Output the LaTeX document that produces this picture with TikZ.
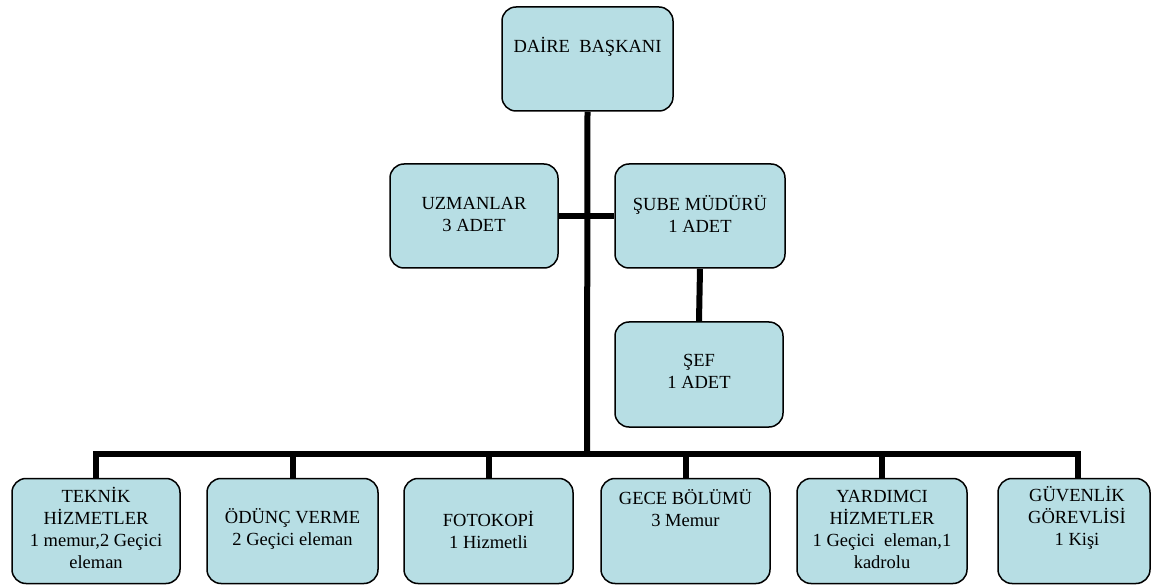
\documentclass[tikz,border=0pt]{standalone}
\usepackage{fontspec}
\setmainfont{Liberation Serif}
\newfontfamily\tnr{Liberation Serif}
\definecolor{boxfill}{RGB}{183,222,228}
\begin{document}
\begin{tikzpicture}[x=1pt,y=-1pt,
  box/.style={draw=black, line width=1.5pt, fill=boxfill, rounded corners=14pt, inner sep=0pt},
  lbl/.style={font=\tnr\fontsize{18.5}{22}\selectfont, align=center, inner sep=0pt, text=black},
  wire/.style={line width=6pt, draw=black}]
\useasboundingbox (0,0) rectangle (1152,585);
% boxes
\node[box, minimum width=171pt, minimum height=104pt] (daire) at (587.5,59) {};
\node[box, minimum width=168pt, minimum height=104pt] (uzm) at (474,216) {};
\node[box, minimum width=170pt, minimum height=104pt] (sube) at (700,216) {};
\node[box, minimum width=168pt, minimum height=105pt] (sef) at (699,374.5) {};
\node[box, minimum width=168pt, minimum height=105pt] (tek) at (96,531) {};
\node[box, minimum width=171pt, minimum height=105pt] (odn) at (292.5,531) {};
\node[box, minimum width=169pt, minimum height=105pt] (foto) at (488.5,531) {};
\node[box, minimum width=169pt, minimum height=105pt] (gece) at (685.5,531) {};
\node[box, minimum width=170pt, minimum height=105pt] (yard) at (882,531) {};
\node[box, minimum width=152pt, minimum height=105pt] (guv) at (1074,531) {};
% labels
\node[lbl] (tdaire) at (587.5,47) {DAİRE~ BAŞKANI};
\node[lbl] (tuzm) at (474,214) {UZMANLAR\\3 ADET};
\node[lbl] (tsube) at (700,214) {ŞUBE MÜDÜRÜ\\1 ADET};
\node[lbl] (tsef) at (699,371) {ŞEF\\1 ADET};
\node[lbl] (ttek) at (96,528) {TEKNİK\\HİZMETLER\\1 memur,2 Geçici\\eleman};
\node[lbl] (todn) at (292.5,529) {ÖDÜNÇ VERME\\2 Geçici eleman};
\node[lbl] (tfoto) at (488.5,530) {FOTOKOPİ\\1 Hizmetli};
\node[lbl] (tgece) at (685.5,508) {GECE BÖLÜMÜ\\3 Memur};
\node[lbl] (tyard) at (882,529) {YARDIMCI\\HİZMETLER\\1 Geçici~ eleman,1\\kadrolu};
\node[lbl] (tguv) at (1077,518) {GÜVENLİK\\GÖREVLİSİ\\1 Kişi};
% connectors
\coordinate (bar) at (587,454);
\coordinate (g) at (1078,454);
\draw[wire] (daire.south) -- (bar);
\draw[wire] (uzm.east) -- (sube.west);
\draw[wire] (sube.south) -- (sef.north);
\draw[wire, line cap=rect] (tek.north |- bar) -- (g);
\draw[wire] (tek.north |- bar) -- (tek.north);
\draw[wire] (odn.north |- bar) -- (odn.north);
\draw[wire] (foto.north |- bar) -- (foto.north);
\draw[wire] (gece.north |- bar) -- (gece.north);
\draw[wire] (yard.north |- bar) -- (yard.north);
\draw[wire] (g) -- (g |- guv.north);
\end{tikzpicture}
\end{document}
